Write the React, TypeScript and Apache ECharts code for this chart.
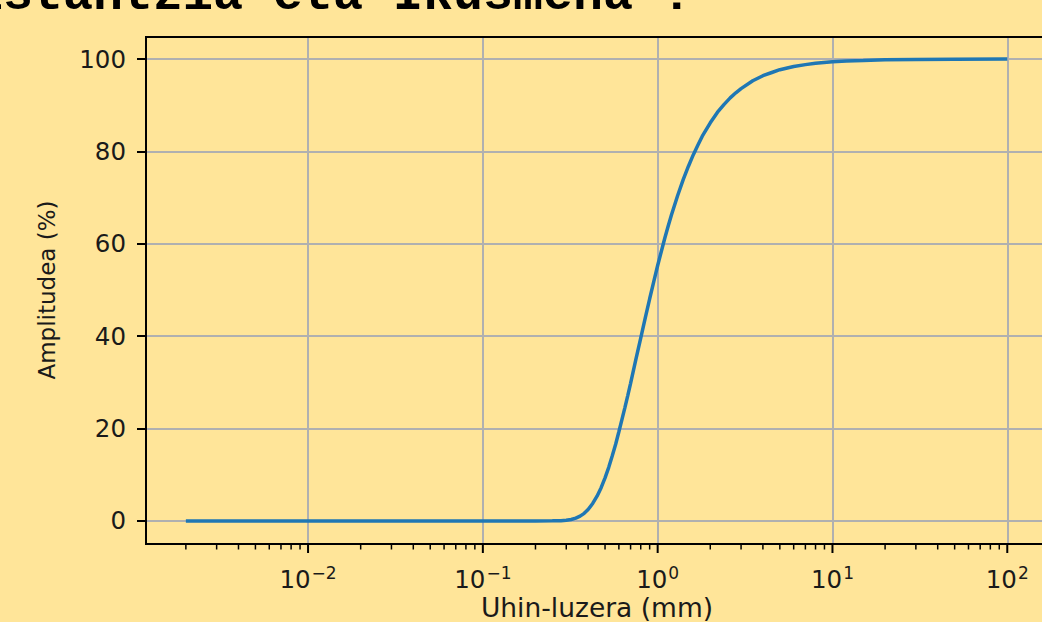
import React, { useEffect, useRef } from "react";
import * as echarts from "echarts";

// Wavelength (mm) and amplitude (%)
const wavelengthMm = [
  0.002, 0.005, 0.01, 0.02, 0.05, 0.1, 0.15, 0.2, 0.25, 0.28, 0.3, 0.32, 0.34,
  0.36, 0.38, 0.4, 0.425, 0.45, 0.475, 0.5, 0.525, 0.55, 0.575, 0.6, 0.625,
  0.65, 0.675, 0.7, 0.75, 0.8, 0.85, 0.9, 0.95, 1.0, 1.05, 1.1, 1.15, 1.2, 1.3,
  1.4, 1.5, 1.6, 1.7, 1.8, 2.0, 2.2, 2.4, 2.6, 2.8, 3.0, 3.5, 4.0, 4.5, 5.0,
  6.0, 7.0, 8.0, 10, 12, 15, 20, 30, 50, 100,
];
const amplitudePct = [
  0, 0, 0, 0, 0, 0, 0, 0, 0.01, 0.05, 0.14, 0.31, 0.59, 1.03, 1.64, 2.46, 3.78,
  5.35, 7.2, 9.33, 11.6, 14.1, 16.6, 19.3, 22.0, 24.6, 27.2, 29.8, 34.9, 39.6,
  44.0, 48.1, 51.8, 55.3, 58.4, 61.3, 63.9, 66.3, 70.4, 73.9, 76.8, 79.3, 81.4,
  83.3, 86.2, 88.5, 90.2, 91.6, 92.7, 93.6, 95.3, 96.4, 97.1, 97.7, 98.4, 98.8,
  99.1, 99.4, 99.6, 99.7, 99.85, 99.93, 99.98, 100,
];

const yTickValues = [0, 20, 40, 60, 80, 100];
const xMajorTicks = [0.01, 0.1, 1, 10, 100];
const xMinorTicks = [
  0.002, 0.003, 0.004, 0.005, 0.006, 0.007, 0.008, 0.009,
  0.02, 0.03, 0.04, 0.05, 0.06, 0.07, 0.08, 0.09,
  0.2, 0.3, 0.4, 0.5, 0.6, 0.7, 0.8, 0.9,
  2, 3, 4, 5, 6, 7, 8, 9,
  20, 30, 40, 50, 60, 70, 80, 90,
];

const titleText = "Distantzia eta Ikusmena ?";
const xAxisName = "Uhin-luzera (mm)";
const yAxisName = "Amplitudea (%)";

const X_MIN = 0.001183;
const X_MAX = 171;
const Y_MIN = -5;
const Y_MAX = 105;

const GRID_LEFT = 146;
const GRID_TOP = 36;
const GRID_W = 902;
const GRID_H = 508;

const BG = "#FFE599";
const TEXT = "#1a1a1a";
const FONT = "DejaVu Sans";
const FS = 24.5;

const supMap: Record<string, string> = { "-": "−" };

export default function App() {
  const ref = useRef<HTMLDivElement>(null);

  useEffect(() => {
    if (!ref.current) return;
    const chart = echarts.init(ref.current, undefined, { renderer: "svg" });

    const tickData = [
      ...xMajorTicks.map((v) => [v, 1]),
      ...xMinorTicks.map((v) => [v, 0]),
    ];

    const option: any = {
      animation: false,
      backgroundColor: BG,
      grid: {
        left: GRID_LEFT,
        top: GRID_TOP,
        width: GRID_W,
        height: GRID_H,
        containLabel: false,
        outerBoundsMode: "none",
      },
      xAxis: {
        type: "log",
        logBase: 10,
        min: X_MIN,
        max: X_MAX,
        name: xAxisName,
        nameLocation: "middle",
        nameGap: 50,
        nameMoveOverlap: false,
        nameTextStyle: { fontFamily: FONT, fontSize: 26.5, color: TEXT },
        axisLine: { show: false },
        axisTick: { show: false },
        minorTick: { show: false },
        splitLine: { show: true, lineStyle: { color: "#b0b0b0", width: 2 } },
        axisLabel: {
          show: true,
          margin: 20,
          showMinLabel: false,
          showMaxLabel: false,
          formatter: (v: number) => {
            const e = Math.log10(v);
            const r = Math.round(e);
            if (Math.abs(e - r) > 1e-6) return "";
            const s = String(r).split("").map((c) => supMap[c] || c).join("");
            return `{b|10}{s|${s}}`;
          },
          rich: {
            b: { fontFamily: FONT, fontSize: FS, color: TEXT, lineHeight: 28, verticalAlign: "bottom" },
            s: { fontFamily: FONT, fontSize: 17, color: TEXT, lineHeight: 28, verticalAlign: "top", padding: [0, 0, 10, 1] },
          },
        },
      },
      yAxis: {
        type: "value",
        min: Y_MIN,
        max: Y_MAX,
        name: yAxisName,
        nameLocation: "middle",
        nameGap: 88,
        nameMoveOverlap: false,
        nameTextStyle: { fontFamily: FONT, fontSize: 23, color: TEXT },
        axisLine: { show: false },
        axisTick: {
          show: true,
          length: 9,
          inside: false,
          customValues: yTickValues,
          lineStyle: { color: "#000", width: 2 },
        },
        axisLabel: {
          show: true,
          margin: 20,
          customValues: yTickValues,
          fontFamily: FONT,
          fontSize: FS,
          color: TEXT,
        },
        splitLine: { show: true, lineStyle: { color: "#b0b0b0", width: 2 } },
      },
      graphic: [
        {
          type: "rect",
          z: 100,
          silent: true,
          shape: { x: GRID_LEFT, y: GRID_TOP + 1, width: GRID_W, height: GRID_H - 1 },
          style: { fill: "none", stroke: "#000", lineWidth: 2 },
        },
        {
          type: "text",
          x: -57,
          y: -5,
          silent: true,
          style: {
            text: titleText,
            font: "bold 50px 'Liberation Mono'",
            fill: "#000",
            verticalAlign: "middle",
            align: "left",
          },
        },
      ],
      series: [
        {
          type: "line",
          data: wavelengthMm.map((w, i) => [w, amplitudePct[i]]),
          showSymbol: false,
          smooth: false,
          lineStyle: { color: "#1f77b4", width: 3.5 },
          z: 5,
        },
        {
          type: "custom",
          silent: true,
          clip: false,
          data: tickData,
          z: 101,
          renderItem: (params: any, api: any) => {
            const major = api.value(1) === 1;
            const p = api.coord([api.value(0), Y_MIN]);
            const len = major ? 9 : 5.5;
            return {
              type: "line",
              shape: { x1: p[0], y1: p[1], x2: p[0], y2: p[1] + len },
              style: { stroke: "#000", lineWidth: major ? 2 : 1.5 },
            };
          },
        },
      ],
    };

    chart.setOption(option);
    return () => chart.dispose();
  }, []);

  return (
    <div
      ref={ref}
      style={{ position: "fixed", left: 0, top: 0, width: 1042, height: 622, background: BG }}
    />
  );
}
